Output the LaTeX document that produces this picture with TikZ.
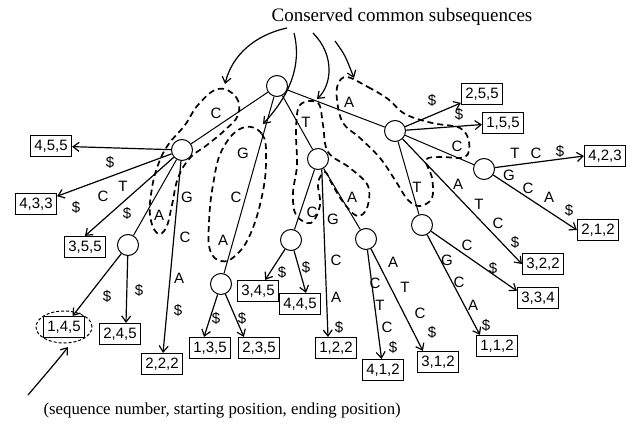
\documentclass[tikz,border=0pt]{standalone}
\usepackage{fontspec}
\setmainfont{Liberation Serif}
\setsansfont{Liberation Sans}
\usetikzlibrary{arrows.meta}

\begin{document}
\begin{tikzpicture}[x=1pt,y=-1pt,
    vtx/.style={circle,draw,line width=1pt,minimum size=21pt,inner sep=0pt},
    leaf/.style={draw,line width=1.2pt,minimum width=41pt,minimum height=21pt,inner sep=0pt,
                 font=\sffamily\fontsize{15}{17}\selectfont},
    lbl/.style={inner sep=0pt,font=\sffamily\fontsize{15}{17}\selectfont},
    lnk/.style={line width=1pt},
    arr/.style={line width=1.2pt,-{Straight Barb[length=6pt,width=9pt]}},
    cons/.style={dashed,line width=1.7pt,dash pattern=on 6pt off 4pt},
    ]
    \useasboundingbox (0,0) rectangle (636,427);

    % texts
    \node[font=\fontsize{19}{22}\selectfont] (title) at (402,17) {Conserved common subsequences};
    \node[anchor=west,font=\fontsize{16.8}{20}\selectfont] (caption) at (40,410)
        {(sequence number, starting position, ending position)};

    % conserved subsequences
    \draw[cons] plot[smooth cycle,tension=0.7] coordinates {(218,89) (236,97) (238,115) (225,130)
        (207,145) (190,158) (178,178) (172,205) (166,228) (157,233) (150,215) (152,188)
        (158,165) (168,145) (185,125) (198,105)};
    \draw[cons] plot[smooth cycle,tension=0.7] coordinates {(242,128) (262,134) (266,160) (262,196)
        (250,235) (235,256) (221,261) (210,250) (209,222) (213,185) (222,150)};
    \draw[cons] plot[smooth cycle,tension=0.6] coordinates {(300,105) (318,103) (323,125) (328,152)
        (350,168) (368,186) (367,208) (357,216) (343,202) (332,184) (325,172) (318,183)
        (320,205) (311,223) (296,215) (293,193) (297,165) (296,130)};
    \draw[cons] plot[smooth cycle,tension=0.6] coordinates {(347,77) (368,87) (388,99) (405,114)
        (432,123) (460,128) (469,142) (465,157) (440,157) (426,160) (432,178) (432,198)
        (420,206) (408,200) (395,180) (380,158) (360,138) (343,123) (337,100) (338,84)};

    % tree nodes
    \node[vtx] (root) at (277,86) {};
    \node[vtx] (vC)   at (182,150) {};
    \node[vtx] (vT)   at (318,159) {};
    \node[vtx] (vA)   at (395,131) {};
    \node[vtx] (vCA)  at (128,245) {};
    \node[vtx] (vGCA) at (221,284) {};
    \node[vtx] (vTC)  at (291,240) {};
    \node[vtx] (vTA)  at (366,239) {};
    \node[vtx] (vAC)  at (484,169) {};
    \node[vtx] (vAT)  at (422,225) {};

    % leaves
    \node[leaf] (b455) at (51,146)  {4,5,5};
    \node[leaf] (b433) at (36,204)  {4,3,3};
    \node[leaf] (b355) at (85,247)  {3,5,5};
    \node[leaf] (b222) at (162,364) {2,2,2};
    \node[leaf] (b145) at (64,327)  {1,4,5};
    \node[leaf] (b245) at (120,334) {2,4,5};
    \node[leaf] (b135) at (210,348) {1,3,5};
    \node[leaf] (b235) at (259,348) {2,3,5};
    \node[leaf] (b345) at (258,291) {3,4,5};
    \node[leaf] (b445) at (300,304) {4,4,5};
    \node[leaf] (b122) at (336,348) {1,2,2};
    \node[leaf] (b412) at (383,370) {4,1,2};
    \node[leaf] (b312) at (438,362) {3,1,2};
    \node[leaf] (b112) at (497,346) {1,1,2};
    \node[leaf] (b334) at (538,298) {3,3,4};
    \node[leaf] (b322) at (543,264) {3,2,2};
    \node[leaf] (b212) at (598,230) {2,1,2};
    \node[leaf] (b423) at (605,156) {4,2,3};
    \node[leaf] (b255) at (482,94)  {2,5,5};
    \node[leaf] (b155) at (503,123) {1,5,5};

    \draw[cons,line width=1pt,dash pattern=on 3pt off 2pt] (b145) ellipse [x radius=28pt,y radius=16pt];

    % inner edges
    \draw[lnk] (root) -- (vC);
    \draw[lnk] (root) -- (vGCA);
    \draw[lnk] (root) -- (vT);
    \draw[lnk] (root) -- (vA);
    \draw[lnk] (vC) -- (vCA);
    \draw[lnk] (vT) -- (vTC);
    \draw[lnk] (vT) -- (vTA);
    \draw[lnk] (vA) -- (vAC);
    \draw[lnk] (vA) -- (vAT);

    % edges to leaves
    \draw[arr] (vC) -- (b455);
    \draw[arr] (vC) -- (b433);
    \draw[arr] (vC) -- (b355.north);
    \draw[arr] (vC) -- (b222);
    \draw[arr] (vCA) -- (b145);
    \draw[arr] (vCA) -- ([xshift=6pt]b245.north);
    \draw[arr] (vGCA) -- ([xshift=-6pt]b135.north);
    \draw[arr] (vGCA) -- ([xshift=6pt]b235.north west);
    \draw[arr] (vTC) -- (b345);
    \draw[arr] (vTC) -- ([xshift=6pt]b445.north);
    \draw[arr] (vT.-70) -- ([xshift=-8pt]b122.north);
    \draw[arr] (vTA) -- (b412);
    \draw[arr] (vTA) -- ([xshift=6pt]b312.north west);
    \draw[arr] (vAT) -- ([yshift=-4pt]b334.north west);
    \draw[arr] (vAT) -- ([xshift=4pt]b112.north west);
    \draw[arr] (vA) -- (b255);
    \draw[arr] (vA) -- (b155);
    \draw[arr] (vA) -- (b322.west);
    \draw[arr] (vAC) -- (b423.west);
    \draw[arr] (vAC) -- (b212.west);

    % edge labels
    \foreach \t/\x/\y [count=\i] in {C/216/113, G/243/153, C/236/197, A/223/240, T/306/122,
        A/349/102, \$/110/162, T/123/186, C/103/196, \$/76/207, \$/127/213, A/159/215,
        G/187/197, C/185/237, A/179/278, \$/178/310, \$/107/296, \$/139/290, \$/216/318,
        \$/242/318, C/312/212, G/333/219, C/336/260, A/336/297, \$/339/327, A/352/197,
        \$/282/272, \$/306/267, C/375/283, T/380/305, C/387/327, \$/393/347, A/393/262,
        T/405/287, C/420/313, \$/432/332, \$/432/100, \$/459/114, C/457/146, T/417/187,
        A/458/184, T/479/204, C/498/223, \$/515/242, T/515/153, C/536/153, \$/560/151,
        G/509/175, C/528/188, A/549/197, \$/569/210, C/467/245, \$/493/268, G/447/260,
        C/459/282, A/473/305, \$/486/325}
        \node[lbl] (l\i) at (\x,\y) {\t};

    % pointers
    \coordinate (s1) at (287,28);  \coordinate (e1) at (225,84);
    \coordinate (s2) at (294,33);  \coordinate (e2) at (263,124);
    \coordinate (s3) at (313,33);  \coordinate (e3) at (317,99);
    \coordinate (s4) at (335,41);  \coordinate (e4) at (354,78);
    \coordinate (s5) at (28,395);  \coordinate (e5) at (68,347);
    \draw[arr] (s1) .. controls (255,35) and (232,55) .. (e1);
    \draw[arr] (s2) .. controls (302,65) and (290,95) .. (e2);
    \draw[arr] (s3) .. controls (335,55) and (332,85) .. (e3);
    \draw[arr] (s4) .. controls (345,55) .. (e4);
    \draw[arr] (s5) .. controls (45,375) and (58,360) .. (e5);
\end{tikzpicture}
\end{document}
